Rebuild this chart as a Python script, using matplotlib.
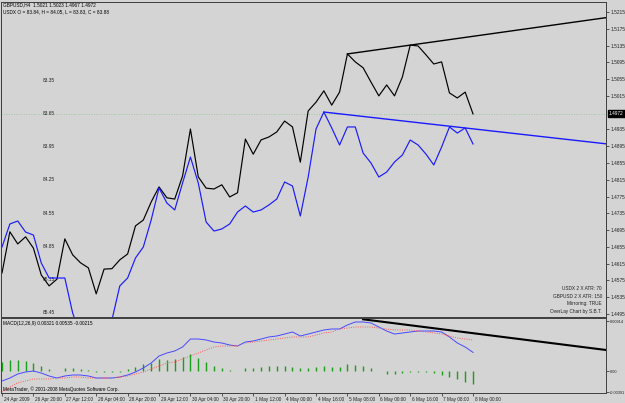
import matplotlib
matplotlib.use("Agg")
import matplotlib.pyplot as plt
import matplotlib.transforms as mtransforms

# H4 bars, 24 Apr - 8 May 2009
time_labels = ["24 Apr 2009", "26 Apr 20:00", "27 Apr 12:00", "28 Apr 04:00",
               "28 Apr 20:00", "29 Apr 12:00", "30 Apr 04:00", "30 Apr 20:00",
               "1 May 12:00", "4 May 00:00", "4 May 16:00", "5 May 08:00",
               "6 May 00:00", "6 May 16:00", "7 May 08:00", "8 May 00:00"]
label_bars = [0, 4, 8, 12, 16, 20, 24, 28, 32, 36, 40, 44, 48, 52, 56, 60]

gbpusd = [1.4593, 1.4691, 1.4662, 1.4679, 1.4652, 1.4588, 1.4562, 1.4578, 1.4674, 1.4636,
          1.4617, 1.4605, 1.4543, 1.4602, 1.4603, 1.4624, 1.4638, 1.4705, 1.4719, 1.4762,
          1.4798, 1.4772, 1.4769, 1.4824, 1.4936, 1.4822, 1.4795, 1.4793, 1.4803, 1.4774,
          1.4784, 1.4912, 1.4876, 1.4910, 1.4917, 1.4929, 1.4955, 1.4941, 1.4857, 1.4979,
          1.5000, 1.5027, 1.4993, 1.5024, 1.5115, 1.5096, 1.5082, 1.5048, 1.5015, 1.5041,
          1.5015, 1.5060, 1.5136, 1.5134, 1.5113, 1.5091, 1.5096, 1.5022, 1.5010, 1.5024,
          1.4972]

# USDX, drawn mirrored
usdx = [84.861, 84.653, 84.626, 84.726, 84.753, 85.006, 85.142, 85.142, 85.142, 85.459,
        85.658, 85.748, 85.748, 85.658, 85.522, 85.214, 85.142, 84.961, 84.861, 84.617,
        84.327, 84.463, 84.526, 84.282, 84.047, 84.282, 84.635, 84.717, 84.698, 84.653,
        84.545, 84.490, 84.545, 84.526, 84.481, 84.427, 84.273, 84.309, 84.581, 84.228,
        83.793, 83.640, 83.784, 83.938, 83.775, 83.775, 84.011, 84.101, 84.228, 84.183,
        84.092, 84.029, 83.893, 83.938, 84.020, 84.119, 83.956, 83.775, 83.830, 83.784,
        83.929]

macd_main = [-0.00183, -0.00128, -0.00055, -0.00018, 0.0, -0.00037, -0.00091, -0.00128,
             -0.00091, -0.00073, -0.00073, -0.00091, -0.00128, -0.00128, -0.00128, -0.00110,
             -0.00073, -0.00018, 0.00055, 0.00146, 0.00274, 0.00329, 0.00366, 0.00439,
             0.00585, 0.00585, 0.00567, 0.00530, 0.00512, 0.00475, 0.00457, 0.00530,
             0.00548, 0.00585, 0.00622, 0.00640, 0.00676, 0.00713, 0.00640, 0.00676,
             0.00713, 0.00750, 0.00768, 0.00768, 0.00841, 0.00896, 0.00896, 0.00878,
             0.00804, 0.00731, 0.00676, 0.00695, 0.00713, 0.00731, 0.00731, 0.00731,
             0.00713, 0.00622, 0.00512, 0.00439, 0.00340]
macd_signal = [-0.00384, -0.00293, -0.00219, -0.00183, -0.00146, -0.00146, -0.00146, -0.00128,
               -0.00128, -0.00110, -0.00110, -0.00128, -0.00128, -0.00128, -0.00128, -0.00110,
               -0.00091, -0.00055, -0.00018, 0.00037, 0.00091, 0.00146, 0.00165, 0.00219,
               0.00274, 0.00329, 0.00384, 0.00439, 0.00457, 0.00457, 0.00457, 0.00512,
               0.00530, 0.00548, 0.00567, 0.00585, 0.00603, 0.00622, 0.00622, 0.00622,
               0.00658, 0.00695, 0.00713, 0.00768, 0.00786, 0.00804, 0.00804, 0.00804,
               0.00786, 0.00768, 0.00750, 0.00750, 0.00750, 0.00731, 0.00713, 0.00695,
               0.00676, 0.00640, 0.00603, 0.00585, 0.00567]
macd_hist = [0.00165, 0.00201, 0.00201, 0.00183, 0.00146, 0.00091, 0.00037, 0.00005,
             0.00049, 0.00049, 0.00031, 0.00013, -0.00027, -0.00027, -0.00027, -0.00018,
             0.00037, 0.00073, 0.00128, 0.00146, 0.00219, 0.00201, 0.00219, 0.00256,
             0.00311, 0.00238, 0.00165, 0.00091, 0.00055, 0.00018, 0.00005, 0.00055,
             0.00060, 0.00079, 0.00097, 0.00091, 0.00097, 0.00079, 0.00049, 0.00049,
             0.00079, 0.00091, 0.00068, 0.00079, 0.00122, 0.00110, 0.00097, 0.00049,
             0.00005, -0.00055, -0.00055, -0.00042, -0.00018, -0.00013, -0.00024, -0.00042,
             -0.00073, -0.00115, -0.00152, -0.00196, -0.00240]

gbp_ticks = [1.5215, 1.5175, 1.5135, 1.5095, 1.5055, 1.5015, 1.4935, 1.4895, 1.4855,
             1.4815, 1.4775, 1.4735, 1.4695, 1.4655, 1.4615, 1.4575, 1.4535, 1.4495]
usdx_ticks = [83.35, 83.65, 83.95, 84.25, 84.55, 84.85, 85.15, 85.45]
macd_ticks = [0.00914, 0.0, -0.00391]

# trend lines: anchor bars taken on the series
gbp_trend_bars = (44, 52)
usdx_trend_bars = (41, 59)
macd_trend_x = [46.0, 77.0]
macd_trend_y = [0.00945, 0.00383]

BG = "#d4d4d4"
W, H = 625, 403
FS = 3.4
plt.rcParams["font.family"] = ["Liberation Sans", "DejaVu Sans"]

fig = plt.figure(figsize=(W / 100, H / 100), dpi=100, facecolor=BG)

x = list(range(len(gbpusd)))
xlim = (-0.13, 76.94)

# ---- main panel: GBPUSD (right scale) + mirrored USDX (left scale)
ax = fig.add_axes([1 / W, (H - 316.5) / H, 605 / W, 314.5 / H], facecolor=BG)
ax_u = ax.twinx()

ax.set_xlim(*xlim)
ax.set_ylim(1.44890, 1.52388)
ax.plot(x, gbpusd, color="black", lw=0.85, zorder=3)
ax.axhline(gbpusd[-1], color="#8fc48f", lw=0.6, ls=(0, (1, 2)), zorder=1)

b0, b1 = gbp_trend_bars
slope = (gbpusd[b1] - gbpusd[b0]) / (b1 - b0)
ax.plot([b0, xlim[1]], [gbpusd[b0], gbpusd[b0] + slope * (xlim[1] - b0)],
        color="black", lw=1.0, zorder=3)

ax.set_xticks([])

ax_u.set_ylim(85.4903, 82.6441)
ax_u.plot(x, usdx, color="#1a1aff", lw=0.85, zorder=2)
b0, b1 = usdx_trend_bars
slope = (usdx[b1] - usdx[b0]) / (b1 - b0)
ax_u.plot([b0, xlim[1]], [usdx[b0], usdx[b0] + slope * (xlim[1] - b0)],
          color="#1a1aff", lw=1.0, zorder=2)

# twinx puts the host ticks on the left, so swap sides afterwards
ax.yaxis.tick_right()
ax.set_yticks(gbp_ticks)
ax.set_yticklabels([f"{t:.4f}" for t in gbp_ticks])
ax.tick_params(axis="y", which="both", left=False, labelleft=False, right=True, labelright=True,
               length=2.2, width=0.5, pad=0.8, labelsize=FS, colors="#202020")

ax_u.yaxis.tick_left()
ax_u.set_yticks(usdx_ticks)
ax_u.set_yticklabels([f"{t:.2f}" for t in usdx_ticks])
ax_u.tick_params(axis="y", right=False, labelright=False, left=True, labelleft=True,
                 length=0, pad=-39, labelsize=FS, colors="#202020")

ax.text(1.0, gbpusd[-1], f"{gbpusd[-1]:.4f}",
        transform=mtransforms.blended_transform_factory(ax.transAxes, ax.transData)
        + mtransforms.ScaledTranslation(3 / 100, 0, fig.dpi_scale_trans),
        ha="left", va="center", fontsize=FS, color="white", clip_on=False, zorder=10,
        bbox=dict(boxstyle="square,pad=0.2", fc="black", ec="black"))

for a in (ax, ax_u):
    for s in a.spines.values():
        s.set_color("#404040")
        s.set_linewidth(0.7)

fig.text(3 / W, 1 - 5 / H, "GBPUSD,H4  1.5021 1.5023 1.4967 1.4972",
         fontsize=FS, va="center", color="black")
fig.text(3 / W, 1 - 12 / H, "USDX O = 83.84, H = 84.05, L = 83.83, C = 83.88",
         fontsize=FS, va="center", color="black")

info = ["USDX 2 X ATR: 70", "GBPUSD 2 X ATR: 150", "Mirroring: TRUE", "OverLay Chart by S.B.T."]
info_y = [289, 297, 304, 311]
for txt, yy in zip(info, info_y):
    fig.text(602 / W, 1 - yy / H, txt, fontsize=FS, ha="right", va="center", color="#202020")

# ---- MACD panel
ax_m = fig.add_axes([1 / W, (H - 393) / H, 605 / W, 75.5 / H], facecolor=BG)
ax_m.set_xlim(*xlim)
ax_m.set_ylim(-0.00402, 0.00978)
ax_m.vlines(x, 0, macd_hist, color="#18a018", lw=1.0)
ax_m.plot(x, macd_main, color="#4848ff", lw=0.7)
ax_m.plot(x, macd_signal, color="#ff5a5a", lw=0.7, ls=(0, (1, 1.4)))
ax_m.plot(macd_trend_x, macd_trend_y, color="black", lw=1.5)

ax_m.yaxis.tick_right()
ax_m.set_yticks(macd_ticks)
ax_m.set_yticklabels(["0.00914", "0.00", "-0.00391"])
ax_m.tick_params(axis="y", length=2.2, width=0.5, pad=0.6, labelsize=2.8, colors="#202020")

ax_m.set_xticks(label_bars)
ax_m.set_xticklabels(time_labels)
ax_m.tick_params(axis="x", length=2.5, width=0.5, pad=0.2, labelsize=FS, colors="#202020")
shift = mtransforms.ScaledTranslation(1.5 / 100, 0, fig.dpi_scale_trans)
for lab in ax_m.get_xticklabels():
    lab.set_horizontalalignment("left")
    lab.set_transform(lab.get_transform() + shift)

for s in ax_m.spines.values():
    s.set_color("#404040")
    s.set_linewidth(0.7)

fig.text(3 / W, 1 - 323 / H, "MACD(12,26,9) 0.00321 0.00535 -0.00215",
         fontsize=FS, va="center", color="black")
fig.text(3 / W, 1 - 389 / H, "MetaTrader, \u00a9 2001-2008 MetaQuotes Software Corp.",
         fontsize=FS, va="center", color="black")

fig.savefig("out.png", dpi=100, facecolor=BG)
